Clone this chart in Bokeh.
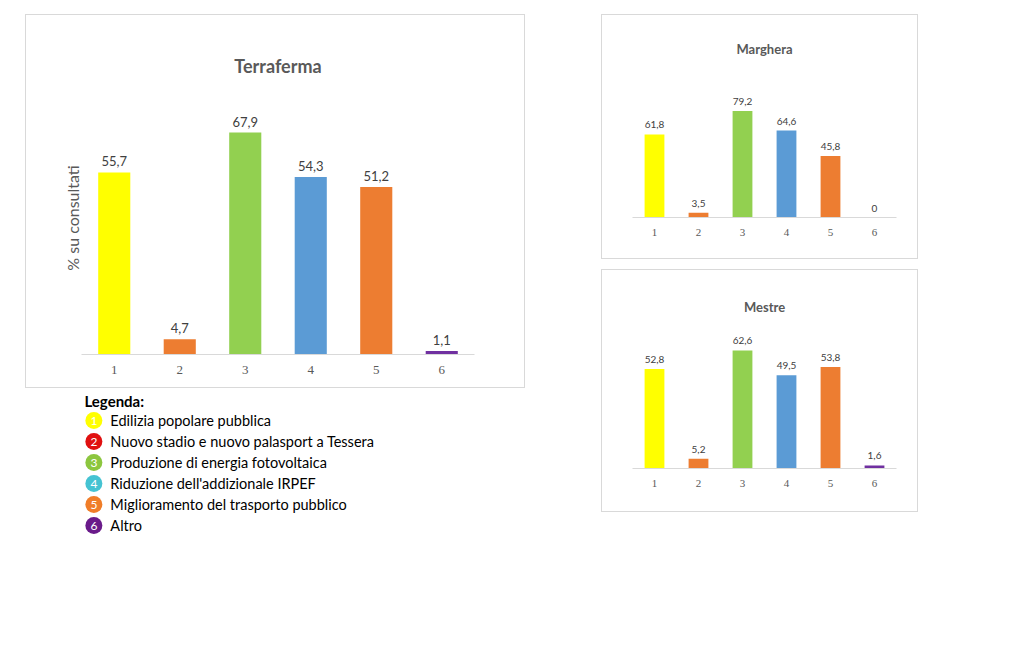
from bokeh.plotting import figure
from bokeh.layouts import row, column, Spacer
from bokeh.models import Range1d, FixedTicker, ColumnDataSource
from bokeh.core.properties import value
from bokeh.embed import file_html
from bokeh.resources import INLINE

categories = [1, 2, 3, 4, 5, 6]
tick_labels = ["1", "2", "3", "4", "5", "6"]
colors = ["#FFFF00", "#ED7D31", "#92D050", "#5B9BD5", "#ED7D31", "#7030A0"]
terraferma = [55.7, 4.7, 67.9, 54.3, 51.2, 1.1]
marghera = [61.8, 3.5, 79.2, 64.6, 45.8, 0.0]
mestre = [52.8, 5.2, 62.6, 49.5, 53.8, 1.6]
legend_labels = [" Edilizia popolare pubblica", "Nuovo stadio e nuovo palasport a Tessera",
                 "Produzione di energia fotovoltaica", "Riduzione dell'addizionale IRPEF",
                 "Miglioramento del trasporto pubblico", "Altro"]
legend_colors = ["#FFFF00", "#E01010", "#8CC63F", "#45C3D2", "#F07D28", "#6A1B8A"]

FONT = "Lato"

def bar_chart(title, vals, w, h, lb, rb, tb, bb, ymax, tsize, vsize, lsize, bar_w, ylabel=None):
    p = figure(width=w, height=h, output_backend="svg", toolbar_location=None,
               x_range=Range1d(0.5, 6.5), y_range=Range1d(0, ymax),
               min_border_left=lb, min_border_right=rb, min_border_top=tb, min_border_bottom=bb,
               styles={"border": "1.5px solid #d9d9d9"})
    p.title.text = title
    p.title.align = "center"
    p.title.text_font = FONT
    p.title.text_font_size = tsize
    p.title.text_color = "#595959"
    p.title.text_font_style = "bold"
    p.outline_line_color = None
    p.grid.visible = False
    if ylabel:
        p.yaxis.axis_label = ylabel
        p.yaxis.axis_label_text_font = FONT
        p.yaxis.axis_label_text_font_size = "16px"
        p.yaxis.axis_label_text_font_style = "normal"
        p.yaxis.axis_label_text_color = "#595959"
        p.yaxis.axis_line_color = None
        p.yaxis.major_tick_line_color = None
        p.yaxis.minor_tick_line_color = None
        p.yaxis.major_label_text_font_size = "0px"
        p.yaxis.axis_label_standoff = 0
        p.yaxis.ticker = FixedTicker(ticks=[])
    else:
        p.yaxis.visible = False
    p.xaxis.ticker = FixedTicker(ticks=categories)
    p.xaxis.major_label_overrides = {c: t for c, t in zip(categories, tick_labels)}
    p.xaxis.major_tick_line_color = None
    p.xaxis.minor_tick_line_color = None
    p.xaxis.axis_line_color = "#d9d9d9"
    p.xaxis.major_label_text_font = "Liberation Serif"
    p.xaxis.major_label_text_font_size = lsize
    p.xaxis.major_label_text_color = "#595959"
    src = ColumnDataSource(dict(x=categories, top=vals, color=colors,
                                lab=[str(v).replace(".", ",") if v != 0 else "0" for v in vals]))
    p.vbar(x="x", top="top", width=bar_w, fill_color="color", line_color=None, source=src)
    p.text(x="x", y="top", text="lab", source=src, y_offset=-6, text_align="center",
           text_baseline="bottom", text_font=value(FONT), text_font_size=vsize, text_color="#404040")
    return p

p1 = bar_chart("Terraferma", terraferma, 500, 374, 55, 52, 66, 35, 83.5, "18px", "13px", "13px", 0.49, "% su consultati")
p2 = bar_chart("Marghera", marghera, 317, 245, 30, 23, 46, 43, 116, "13px", "10px", "11px", 0.45)
p3 = bar_chart("Mestre", mestre, 317, 243, 30, 23, 49, 45, 79, "13px", "10px", "11px", 0.45)

leg = figure(width=500, height=150, output_backend="svg", toolbar_location=None,
             x_range=Range1d(0, 500), y_range=Range1d(150, 0), min_border=0)
leg.axis.visible = False
leg.grid.visible = False
leg.outline_line_color = None
ys = [32 + 21 * i for i in range(6)]
leg.text(x=[5], y=[12], text=["Legenda:"], text_font=value(FONT), text_font_size="15px",
         text_font_style="bold", text_color="#000000", text_baseline="middle")
leg.scatter(x=[17] * 6, y=ys, size=17, fill_color=legend_colors, line_color=None)
leg.text(x=[17] * 6, y=ys, text=[str(c) for c in categories], text_align="center",
         text_baseline="middle", text_font=value(FONT), text_font_size="12px", text_color="#ffffff")
leg.text(x=[38] * 6, y=ys, text=legend_labels, text_baseline="middle",
         text_font=value(FONT), text_font_size="14.5px", text_color="#000000")

left = column(Spacer(height=14), p1, leg, spacing=0)
right = column(Spacer(height=14), p2, Spacer(height=10), p3, spacing=0)
layout = row(Spacer(width=25), left, Spacer(width=76), right, spacing=0)

open("out.html", "w").write(file_html(layout, INLINE))
